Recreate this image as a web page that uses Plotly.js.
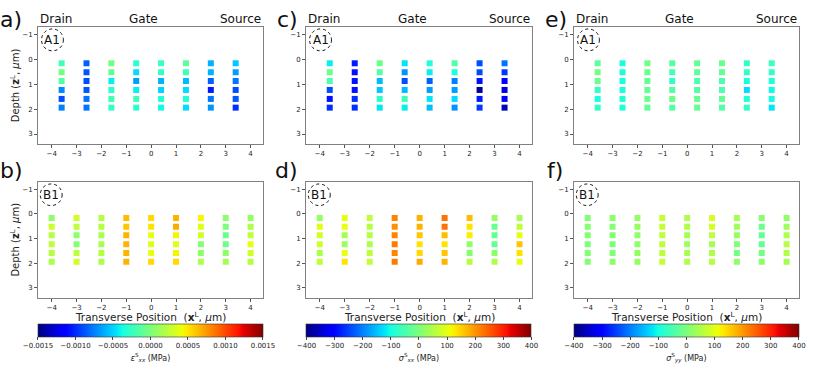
<!DOCTYPE html>
<html>
<head>
<meta charset="utf-8">
<script src="https://cdn.plot.ly/plotly-3.0.1.min.js"></script>
<style>
  body { margin: 0; background: #fff; }
  #fig { width: 830px; height: 374px; }
</style>
</head>
<body>
<div id="fig"></div>
<script>
// column positions (x, um) and row depths (z, um)
var colsA = [-3.6, -2.6, -1.6, -0.6, 0.4, 1.4, 2.4, 3.4];
var colsB = [-4, -3, -2, -1, 0, 1, 2, 3, 4];
var depths = [0.16, 0.52, 0.87, 1.23, 1.59, 1.94];

// strain eps_xx, one inner array per column (top to bottom)
var epsA1 = [
  [-0.00021, -0.00003, -0.00015, -0.00072, -0.0009, -0.00075],
  [-0.00084, -0.00087, -0.0009, -0.00087, -0.00078, -0.00078],
  [-0.00003, -0.00009, -0.00042, -0.0003, -0.00021, -0.00027],
  [-0.0003, -0.00048, -0.00066, -0.00042, -0.00021, -0.0003],
  [-0.00024, -0.00027, -0.0006, -0.00051, -0.00033, -0.00039],
  [-0.00012, -0.00024, -0.00057, -0.00048, -0.00033, -0.00048],
  [-0.0006, -0.0006, -0.00084, -0.00105, -0.00078, -0.00069],
  [-0.00054, -0.00066, -0.00078, -0.0009, -0.00087, -0.00099]
];
var epsB1 = [
  [0.00006, 0.0003, 0.00021, 0.00024, 0.00021, 0.00018],
  [0.0003, 0.00024, 0.00006, 0.00003, 0.00024, 0.0003],
  [0.00021, 0.00021, 0.00015, 0.00015, 0.00021, 0.00018],
  [0.00063, 0.0006, 0.00066, 0.00066, 0.00066, 0.00066],
  [0.00054, 0.00051, 0.00039, 0.00036, 0.00039, 0.00054],
  [0.00066, 0.00069, 0.00045, 0.00036, 0.00045, 0.00054],
  [0.00045, 0.00036, 0.0003, 0.00003, 0.00006, 0.00018],
  [0.00006, 0, -0.00006, -0.00006, 0.00006, 0.00015],
  [0.00009, 0.00018, 0.00024, 0.00039, 0.0003, 0.00021]
];

// stress sigma_xx (MPa)
var sxxA1 = [
  [-112, -16, -48, -240, -288, -264],
  [-280, -288, -288, -288, -264, -264],
  [-16, -40, -152, -144, -80, -120],
  [-120, -184, -240, -152, -64, -112],
  [-88, -112, -224, -176, -120, -152],
  [-40, -96, -200, -176, -128, -184],
  [-240, -240, -288, -384, -280, -256],
  [-208, -256, -304, -336, -304, -360]
];
var sxxB1 = [
  [24, 96, 80, 80, 48, 64],
  [104, 104, 40, 32, 104, 136],
  [64, 56, 56, 48, 64, 64],
  [216, 208, 216, 224, 216, 224],
  [176, 176, 160, 136, 144, 184],
  [232, 232, 168, 136, 160, 176],
  [168, 136, 128, 16, 8, 56],
  [24, -16, -24, -24, 16, 48],
  [40, 64, 104, 160, 136, 104]
];

// stress sigma_yy (MPa)
var syyA1 = [
  [-32, -8, -16, -72, -96, -72],
  [-96, -96, -96, -96, -88, -88],
  [-8, -16, -24, -24, -16, -24],
  [-40, -56, -72, -40, -16, -40],
  [-24, -32, -48, -40, -24, -24],
  [-16, -24, -48, -48, -24, -40],
  [-72, -72, -96, -128, -88, -72],
  [-64, -72, -88, -104, -96, -120]
];
var syyB1 = [
  [8, 8, 8, 0, 8, 8],
  [16, 8, 8, 0, 8, 16],
  [24, 24, 16, 16, 24, 24],
  [72, 72, 64, 64, 64, 72],
  [48, 48, 40, 32, 40, 48],
  [88, 88, 64, 40, 48, 56],
  [40, 32, 24, 0, -8, 16],
  [8, -16, -24, -24, -8, 16],
  [16, 32, 48, 56, 48, 40]
];

var epsTicks = [-0.0015, -0.001, -0.0005, 0, 0.0005, 0.001, 0.0015];
var sigTicks = [-400, -300, -200, -100, 0, 100, 200, 300, 400];

// matplotlib "jet"
var jet = [
  [0, 'rgb(0,0,128)'], [0.11, 'rgb(0,0,255)'], [0.125, 'rgb(0,0,255)'],
  [0.34, 'rgb(0,219,255)'], [0.35, 'rgb(0,229,247)'], [0.375, 'rgb(21,255,226)'],
  [0.64, 'rgb(239,255,8)'], [0.65, 'rgb(247,245,0)'], [0.66, 'rgb(255,236,0)'],
  [0.89, 'rgb(255,19,0)'], [0.91, 'rgb(232,0,0)'], [1, 'rgb(128,0,0)']
];

function flatten(cols, vals) {
  var x = [], y = [], c = [];
  cols.forEach(function(cx, i) {
    depths.forEach(function(z, j) {
      x.push(cx); y.push(z); c.push(vals[i][j]);
    });
  });
  return {x: x, y: y, c: c};
}

function grid(cols, vals, ax, cmin, cmax, bar) {
  var d = flatten(cols, vals);
  var tr = {
    x: d.x, y: d.y, type: 'scatter', mode: 'markers',
    xaxis: 'x' + ax, yaxis: 'y' + ax, hoverinfo: 'skip',
    marker: {symbol: 'square', size: 6, color: d.c, cmin: cmin, cmax: cmax,
             colorscale: jet, line: {width: 0}, showscale: !!bar}
  };
  if (bar) tr.marker.colorbar = bar;
  return tr;
}

function cbar(cx, ticks, fmt, title) {
  return {
    orientation: 'h', x: cx, xanchor: 'center', y: 0.135, yanchor: 'top',
    len: 0.271, lenmode: 'fraction', thickness: 13, xpad: 0, ypad: 0,
    outlinewidth: 0.6, outlinecolor: '#333',
    tickvals: ticks, tickformat: fmt, ticks: 'outside', ticklen: 3,
    tickfont: {size: 7, color: '#222'},
    title: {text: title, side: 'bottom', font: {size: 8, color: '#222'}}
  };
}

var data = [
  grid(colsA, epsA1, '', -0.0015, 0.0015),
  grid(colsA, sxxA1, '2', -400, 400),
  grid(colsA, syyA1, '3', -400, 400),
  grid(colsB, epsB1, '4', -0.0015, 0.0015,
       cbar(0.1813, epsTicks, '.4f', '<i>ε</i><sup>S</sup><sub><i>xx</i></sub> (MPa)')),
  grid(colsB, sxxB1, '5', -400, 400,
       cbar(0.5048, sigTicks, 'd', '<i>σ</i><sup>S</sup><sub><i>xx</i></sub> (MPa)')),
  grid(colsB, syyB1, '6', -400, 400,
       cbar(0.827, sigTicks, 'd', '<i>σ</i><sup>S</sup><sub><i>yy</i></sub> (MPa)'))
];

var xDom = [[0.0458, 0.3169], [0.3687, 0.641], [0.6916, 0.9627]];
var yDom = [[0.615, 0.928], [0.2045, 0.5134]];
var fontFam = 'DejaVu Sans, sans-serif';

function axId(col, row) {
  var n = row * 3 + col + 1;
  return n === 1 ? '' : String(n);
}

function xax(col, row) {
  return {
    domain: xDom[col], anchor: 'y' + axId(col, row),
    range: [-4.55, 4.5], dtick: 1, tick0: 0, showgrid: false, zeroline: false,
    showline: true, mirror: true, linecolor: '#808080', linewidth: 1,
    ticks: 'outside', ticklen: 3, tickcolor: '#555', tickfont: {size: 7, color: '#222'}
  };
}
function yax(col, row, titled) {
  var a = {
    domain: yDom[row], anchor: 'x' + axId(col, row),
    range: [3.4, -1.3], dtick: 1, tick0: 0, showgrid: false, zeroline: false,
    showline: true, mirror: true, linecolor: '#808080', linewidth: 1,
    ticks: 'outside', ticklen: 3, tickcolor: '#555', tickfont: {size: 7, color: '#222'}
  };
  if (titled) a.title = {text: 'Depth (<b>z</b><sup>L</sup>, <i>μ</i>m)',
                         font: {size: 10, color: '#222'}, standoff: 0};
  return a;
}

var annotations = [];
var shapes = [];
var letters = [['a)', 'c)', 'e)'], ['b)', 'd)', 'f)']];
var letterX = [[-2, 275, 543], [-2, 273, 545]];
var letterY = [20, 170];
[0, 1].forEach(function(row) {
  [0, 1, 2].forEach(function(col) {
    var id = axId(col, row);
    var xr = 'x' + id, yr = 'y' + id;
    annotations.push({xref: 'paper', yref: 'paper', x: letterX[row][col] / 830,
      y: 1 - letterY[row] / 374, xanchor: 'left', yanchor: 'middle', showarrow: false,
      text: letters[row][col], font: {size: 22, color: '#111'}});
    var lab = row === 0 ? 'A1' : 'B1';
    var cx = row === 0 ? -3.97 : -4.02;
    annotations.push({xref: xr, yref: yr, x: cx, y: -0.78, showarrow: false,
      text: lab, font: {size: 12, color: '#111'}});
    shapes.push({type: 'circle', xref: xr, yref: yr, x0: cx - 0.44, x1: cx + 0.44,
      y0: -0.78 - 0.44, y1: -0.78 + 0.44, line: {color: '#111', width: 1, dash: 'dot'}});
    if (row === 0) {
      annotations.push({xref: xr, yref: 'paper', x: -4.55, xanchor: 'left', y: 1 - 19 / 374,
        yanchor: 'middle', showarrow: false, text: 'Drain', font: {size: 12, color: '#111'}});
      annotations.push({xref: xr, yref: 'paper', x: -0.3, xanchor: 'center', y: 1 - 19 / 374,
        yanchor: 'middle', showarrow: false, text: 'Gate', font: {size: 12, color: '#111'}});
      annotations.push({xref: xr, yref: 'paper', x: 4.5, xanchor: 'right', y: 1 - 19 / 374,
        yanchor: 'middle', showarrow: false, text: 'Source', font: {size: 12, color: '#111'}});
    } else {
      // x-axis title, placed by hand so it sits just above the colour bar
      annotations.push({xref: 'paper', yref: 'paper',
        x: (xDom[col][0] + xDom[col][1]) / 2, xanchor: 'center',
        y: 1 - 316.5 / 374, yanchor: 'middle', showarrow: false,
        text: 'Transverse Position  (<b>x</b><sup>L</sup>, <i>μ</i>m)',
        font: {size: 10.5, color: '#222'}});
    }
  });
});

var layout = {
  width: 830, height: 374, margin: {l: 0, r: 0, t: 0, b: 0},
  paper_bgcolor: '#fff', plot_bgcolor: '#fff', showlegend: false,
  font: {family: fontFam, color: '#222'},
  xaxis: xax(0, 0), yaxis: yax(0, 0, true),
  xaxis2: xax(1, 0), yaxis2: yax(1, 0),
  xaxis3: xax(2, 0), yaxis3: yax(2, 0),
  xaxis4: xax(0, 1), yaxis4: yax(0, 1, true),
  xaxis5: xax(1, 1), yaxis5: yax(1, 1),
  xaxis6: xax(2, 1), yaxis6: yax(2, 1),
  annotations: annotations, shapes: shapes
};

Plotly.newPlot('fig', data, layout, {staticPlot: true});
</script>
</body>
</html>
